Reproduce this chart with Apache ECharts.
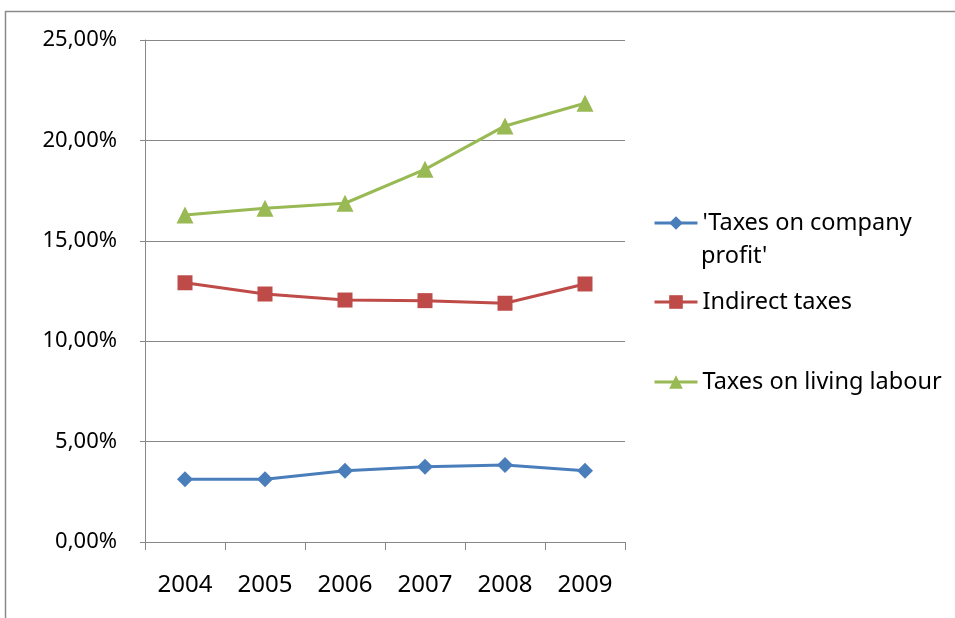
<!DOCTYPE html>
<html>
<head>
<meta charset="utf-8">
<script src="https://cdn.jsdelivr.net/npm/echarts@6/dist/echarts.min.js"></script>
<style>html,body{margin:0;padding:0;background:#fff}#c{width:955px;height:618px}</style>
</head>
<body>
<div id="c"></div>
<script>
const years = ['2004','2005','2006','2007','2008','2009'];
const companyProfit = [3.12, 3.12, 3.55, 3.75, 3.83, 3.55];
const indirectTaxes = [12.91, 12.35, 12.05, 12.02, 11.89, 12.85];
const livingLabour = [16.29, 16.62, 16.87, 18.56, 20.72, 21.85];
const yTicks = [0, 5, 10, 15, 20, 25];
const seriesNames = ["'Taxes on company profit'", 'Indirect taxes', 'Taxes on living labour'];

const font = 'Noto Sans';
const grey = '#878787';
const chart = echarts.init(document.getElementById('c'), null, {renderer: 'canvas'});
const legendText = {fontFamily: font, fontSize: 23.5, color: '#000'};
const legendBase = {left: 653, orient: 'vertical', itemWidth: 43, itemHeight: 17, itemGap: 4, padding: 0,
  textStyle: legendText, lineStyle: {width: 3}};
chart.setOption({
  animation: false,
  backgroundColor: '#fff',
  grid: {left: 145, right: 330, top: 40, bottom: 76, containLabel: false},
  graphic: [
    {type: 'rect', shape: {x: 5.5, y: 11.5, width: 1200, height: 1000},
     style: {fill: null, stroke: '#8a8a8a', lineWidth: 1.5}, silent: true, z: -10},
    {type: 'text', left: 701, top: 244,
     style: {text: "profit'", fontFamily: font, fontSize: 23.5, fill: '#000'}, silent: true}
  ],
  legend: [
    Object.assign({data: [seriesNames[0]], top: 211, formatter: () => "'Taxes on company"}, legendBase),
    Object.assign({data: [seriesNames[1]], top: 290}, legendBase),
    Object.assign({data: [seriesNames[2]], top: 370}, legendBase)
  ],
  xAxis: {
    type: 'category', data: years, boundaryGap: true,
    axisLine: {show: true, lineStyle: {color: grey, width: 1}},
    axisTick: {show: true, alignWithLabel: false, length: 8, lineStyle: {color: grey}},
    axisLabel: {fontFamily: font, fontSize: 24, color: '#000', margin: 31},
    splitLine: {show: false}
  },
  yAxis: {
    type: 'value', min: 0, max: 25, interval: 5,
    axisLine: {show: true, lineStyle: {color: grey, width: 1}},
    axisTick: {show: true, length: 5, lineStyle: {color: grey}},
    axisLabel: {fontFamily: font, fontSize: 22, color: '#000', margin: 28,
      formatter: v => yTicks.includes(v) ? v.toFixed(2).replace('.', ',') + '%' : ''},
    splitLine: {show: true, lineStyle: {color: grey, width: 1}}
  },
  series: [
    {name: seriesNames[0], type: 'line', data: companyProfit, symbol: 'diamond', symbolSize: 16,
     lineStyle: {color: '#4a7ebb', width: 3}, itemStyle: {color: '#4a7ebb'}},
    {name: seriesNames[1], type: 'line', data: indirectTaxes, symbol: 'rect', symbolSize: 15,
     lineStyle: {color: '#be4b48', width: 3}, itemStyle: {color: '#be4b48'}},
    {name: seriesNames[2], type: 'line', data: livingLabour, symbol: 'triangle', symbolSize: 17,
     lineStyle: {color: '#98b954', width: 3}, itemStyle: {color: '#98b954'}}
  ]
});
</script>
</body>
</html>
